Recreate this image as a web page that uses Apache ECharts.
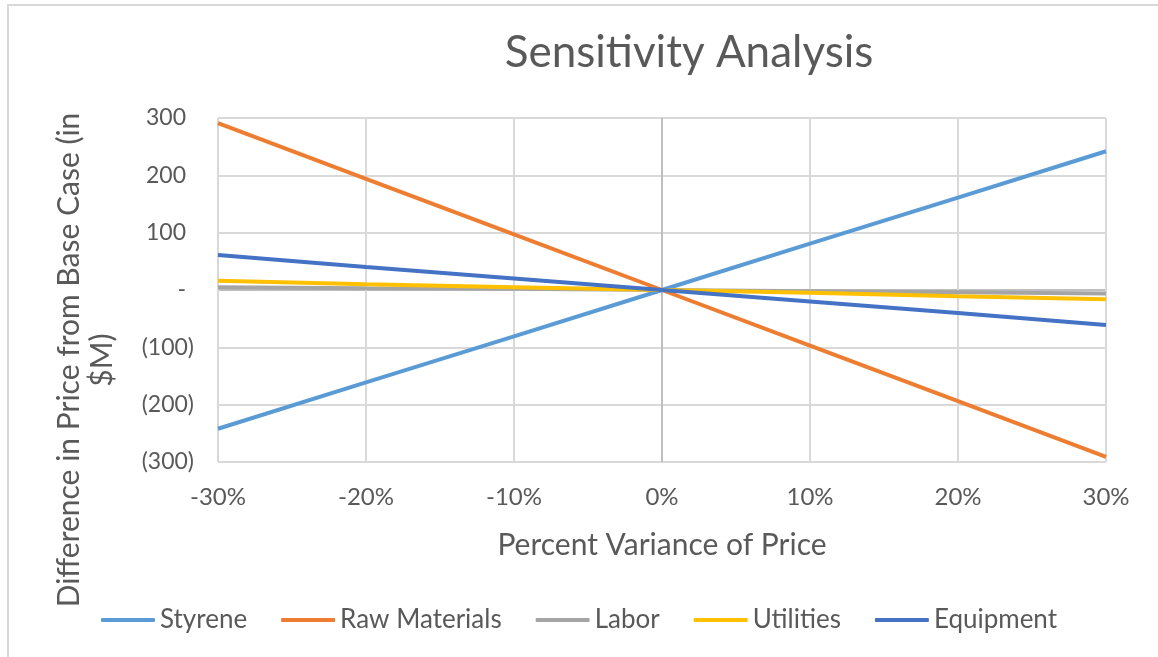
<!DOCTYPE html>
<html>
<head>
<meta charset="utf-8">
<script src="https://cdn.jsdelivr.net/npm/echarts@6/dist/echarts.min.js"></script>
<style>
  html, body { margin: 0; padding: 0; background: #fff; }
  #chart { width: 1158px; height: 657px; }
</style>
</head>
<body>
<div id="chart"></div>
<script>
// percent variance categories
const categories = ['-30%', '-20%', '-10%', '0%', '10%', '20%', '30%']
const styrene = [-242, -161, -81, 0, 81, 161, 242]
const rawMaterials = [291, 194, 97, 0, -97, -194, -291]
const labor = [5, 3, 2, 0, -2, -4, -6]
const utilities = [16, 10, 5, 0, -5, -11, -16]
const equipment = [61, 40, 20, 0, -20, -40, -61]

const seriesNames = ['Styrene', 'Raw Materials', 'Labor', 'Utilities', 'Equipment']
const seriesColors = ['#5b9bd5', '#ed7d31', '#a5a5a5', '#ffc000', '#4472c4']
const seriesData = [styrene, rawMaterials, labor, utilities, equipment]

const font = 'Lato'
const textColor = '#595959'
const grid = '#d9d9d9'
const axisGray = '#bfbfbf'

const myChart = echarts.init(document.getElementById('chart'))

const options = {
  animation: false,
  textStyle: { fontFamily: font },
  title: {
    text: 'Sensitivity Analysis',
    left: 684,
    textAlign: 'center',
    top: 26,
    textStyle: { fontFamily: font, fontSize: 44, fontWeight: 'normal', color: textColor }
  },
  graphic: [
    {
      type: 'rect',
      shape: { x: 8, y: 5, width: 1180, height: 700 },
      style: { fill: 'none', stroke: grid, lineWidth: 2 },
      silent: true
    },
    {
      type: 'text',
      x: 86,
      y: 360,
      rotation: Math.PI / 2,
      style: {
        text: 'Difference in Price from Base Case (in\n$M)',
        fontFamily: font,
        fontSize: 30,
        lineHeight: 33,
        fill: textColor,
        align: 'center',
        verticalAlign: 'middle'
      }
    }
  ],
  legend: {
    data: seriesNames,
    bottom: 19,
    left: 'center',
    icon: 'roundRect',
    itemWidth: 54,
    itemHeight: 4,
    itemGap: 34,
    textStyle: { fontFamily: font, fontSize: 26, color: textColor }
  },
  grid: { left: 218, right: 52, top: 118, bottom: 195 },
  xAxis: {
    type: 'category',
    data: categories,
    boundaryGap: false,
    name: 'Percent Variance of Price',
    nameLocation: 'middle',
    nameGap: 68,
    nameTextStyle: { fontFamily: font, fontSize: 30, color: textColor },
    axisLine: { show: false },
    axisTick: { show: false },
    axisLabel: { margin: 23, fontFamily: font, fontSize: 24, color: textColor },
    splitLine: {
      show: true,
      lineStyle: { width: 2, color: [grid, grid, grid, axisGray, grid, grid, grid] }
    }
  },
  yAxis: {
    type: 'value',
    min: -300,
    max: 300,
    interval: 100,
    axisLine: { show: false },
    axisTick: { show: false },
    axisLabel: {
      margin: 24,
      fontFamily: font,
      fontSize: 23,
      color: textColor,
      formatter: function (v) {
        if (v === 0) return '{p|-}'
        if (v < 0) return '(' + Math.abs(v) + ')'
        return '{p|' + v + '}'
      },
      rich: {
        p: { fontFamily: font, fontSize: 23, color: textColor, padding: [0, 8, 0, 0] }
      }
    },
    splitLine: {
      lineStyle: { width: 2, color: [grid, grid, grid, axisGray, grid, grid, grid] }
    }
  },
  series: seriesNames.map((name, i) => ({
    name: name,
    type: 'line',
    data: seriesData[i],
    symbol: 'none',
    lineStyle: { width: 4, color: seriesColors[i] },
    itemStyle: { color: seriesColors[i] }
  }))
}

myChart.setOption(options)
</script>
</body>
</html>
